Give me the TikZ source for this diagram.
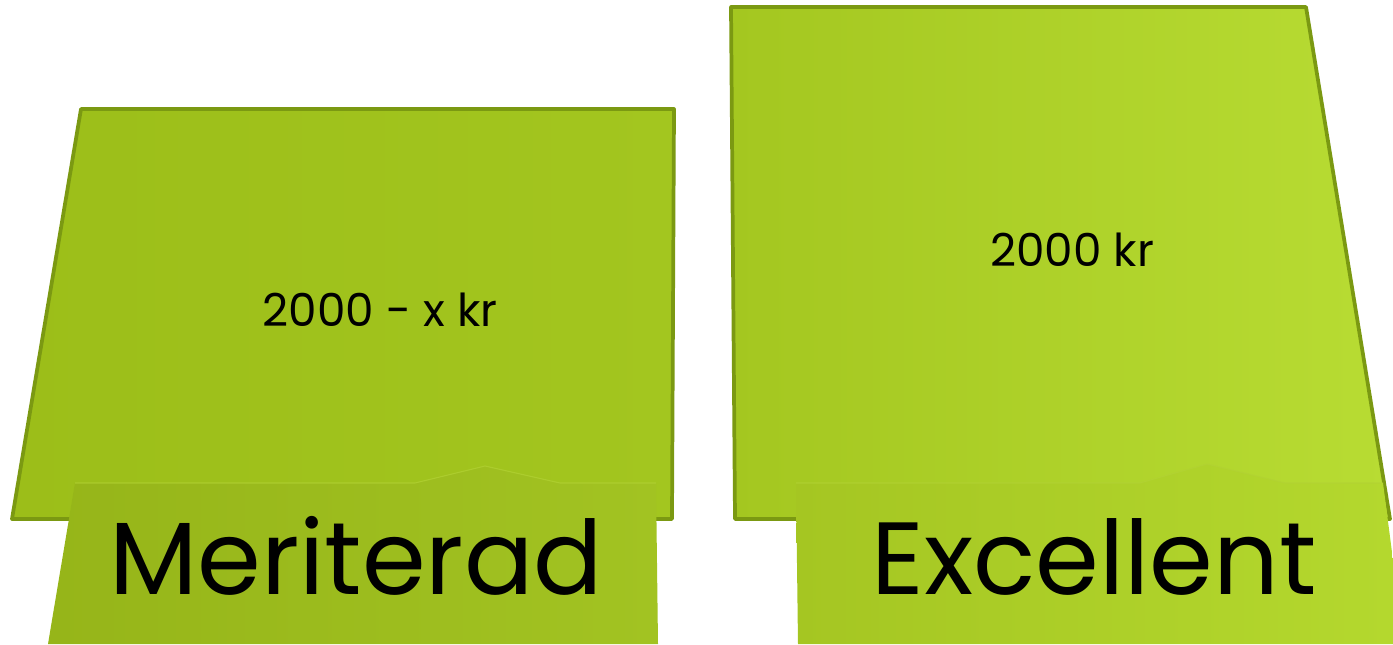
\documentclass[tikz,border=0pt]{standalone}
\usepackage{fontspec}
\setmainfont{Poppins}
\usetikzlibrary{shadings}
\definecolor{edge}{HTML}{7B9912}
\definecolor{gA}{HTML}{9CBE19}
\definecolor{gB}{HTML}{A3C61F}
\definecolor{gC}{HTML}{A4C720}
\definecolor{gD}{HTML}{B8DC33}
\definecolor{tA}{HTML}{96B519}
\definecolor{tB}{HTML}{A2C322}
\definecolor{tC}{HTML}{A5C622}
\definecolor{tD}{HTML}{B4D82E}
\definecolor{hl}{HTML}{B2D234}
\tikzset{
  panel/.style={draw=edge, line width=2.8pt, line join=round},
  tab/.style={draw=none},
  tabedge/.style={draw=hl, line width=0.8pt, opacity=0.7},
  small/.style={font=\fontsize{34}{38}\selectfont, text=black, inner sep=0pt},
  big/.style={font=\fontsize{77}{82}\selectfont, text=black, inner sep=0pt, anchor=base},
}
\begin{document}
\begin{tikzpicture}[x=0.75pt,y=-0.75pt]
\useasboundingbox (0,0) rectangle (1393,644);
% panels
\path[panel, left color=gA, right color=gB] (81,109) -- (674,109) -- (672,519) -- (12,519) -- cycle;
\path[panel, left color=gC, right color=gD] (731,7) -- (1306,7) -- (1390,519) -- (735,519) -- cycle;
% tabs
\path[tab, left color=tA, right color=tB] (75,483) -- (415,483) -- (485,466) -- (560,483) -- (656,483) -- (658,644) -- (48,644) -- cycle;
\path[tab, left color=tC, right color=tD] (796,483) -- (1140,483) -- (1207,464) -- (1285,483) -- (1383,483) -- (1393,560) -- (1393,644) -- (798,644) -- cycle;
\path[tabedge] (75,483) -- (415,483) -- (485,466) -- (560,483) -- (656,483);
\path[tabedge] (796,483) -- (1140,483) -- (1207,464) -- (1285,483) -- (1383,483);
% texts
\node[small] (amt1) at (380,310) {2000 - x kr};
\node[small] (amt2) at (1072,250) {2000 kr};
\node[big] (lab1) at (356,594) {Meriterad};
\node[big] (lab2) at (1094,594) {Excellent};
\end{tikzpicture}
\end{document}
